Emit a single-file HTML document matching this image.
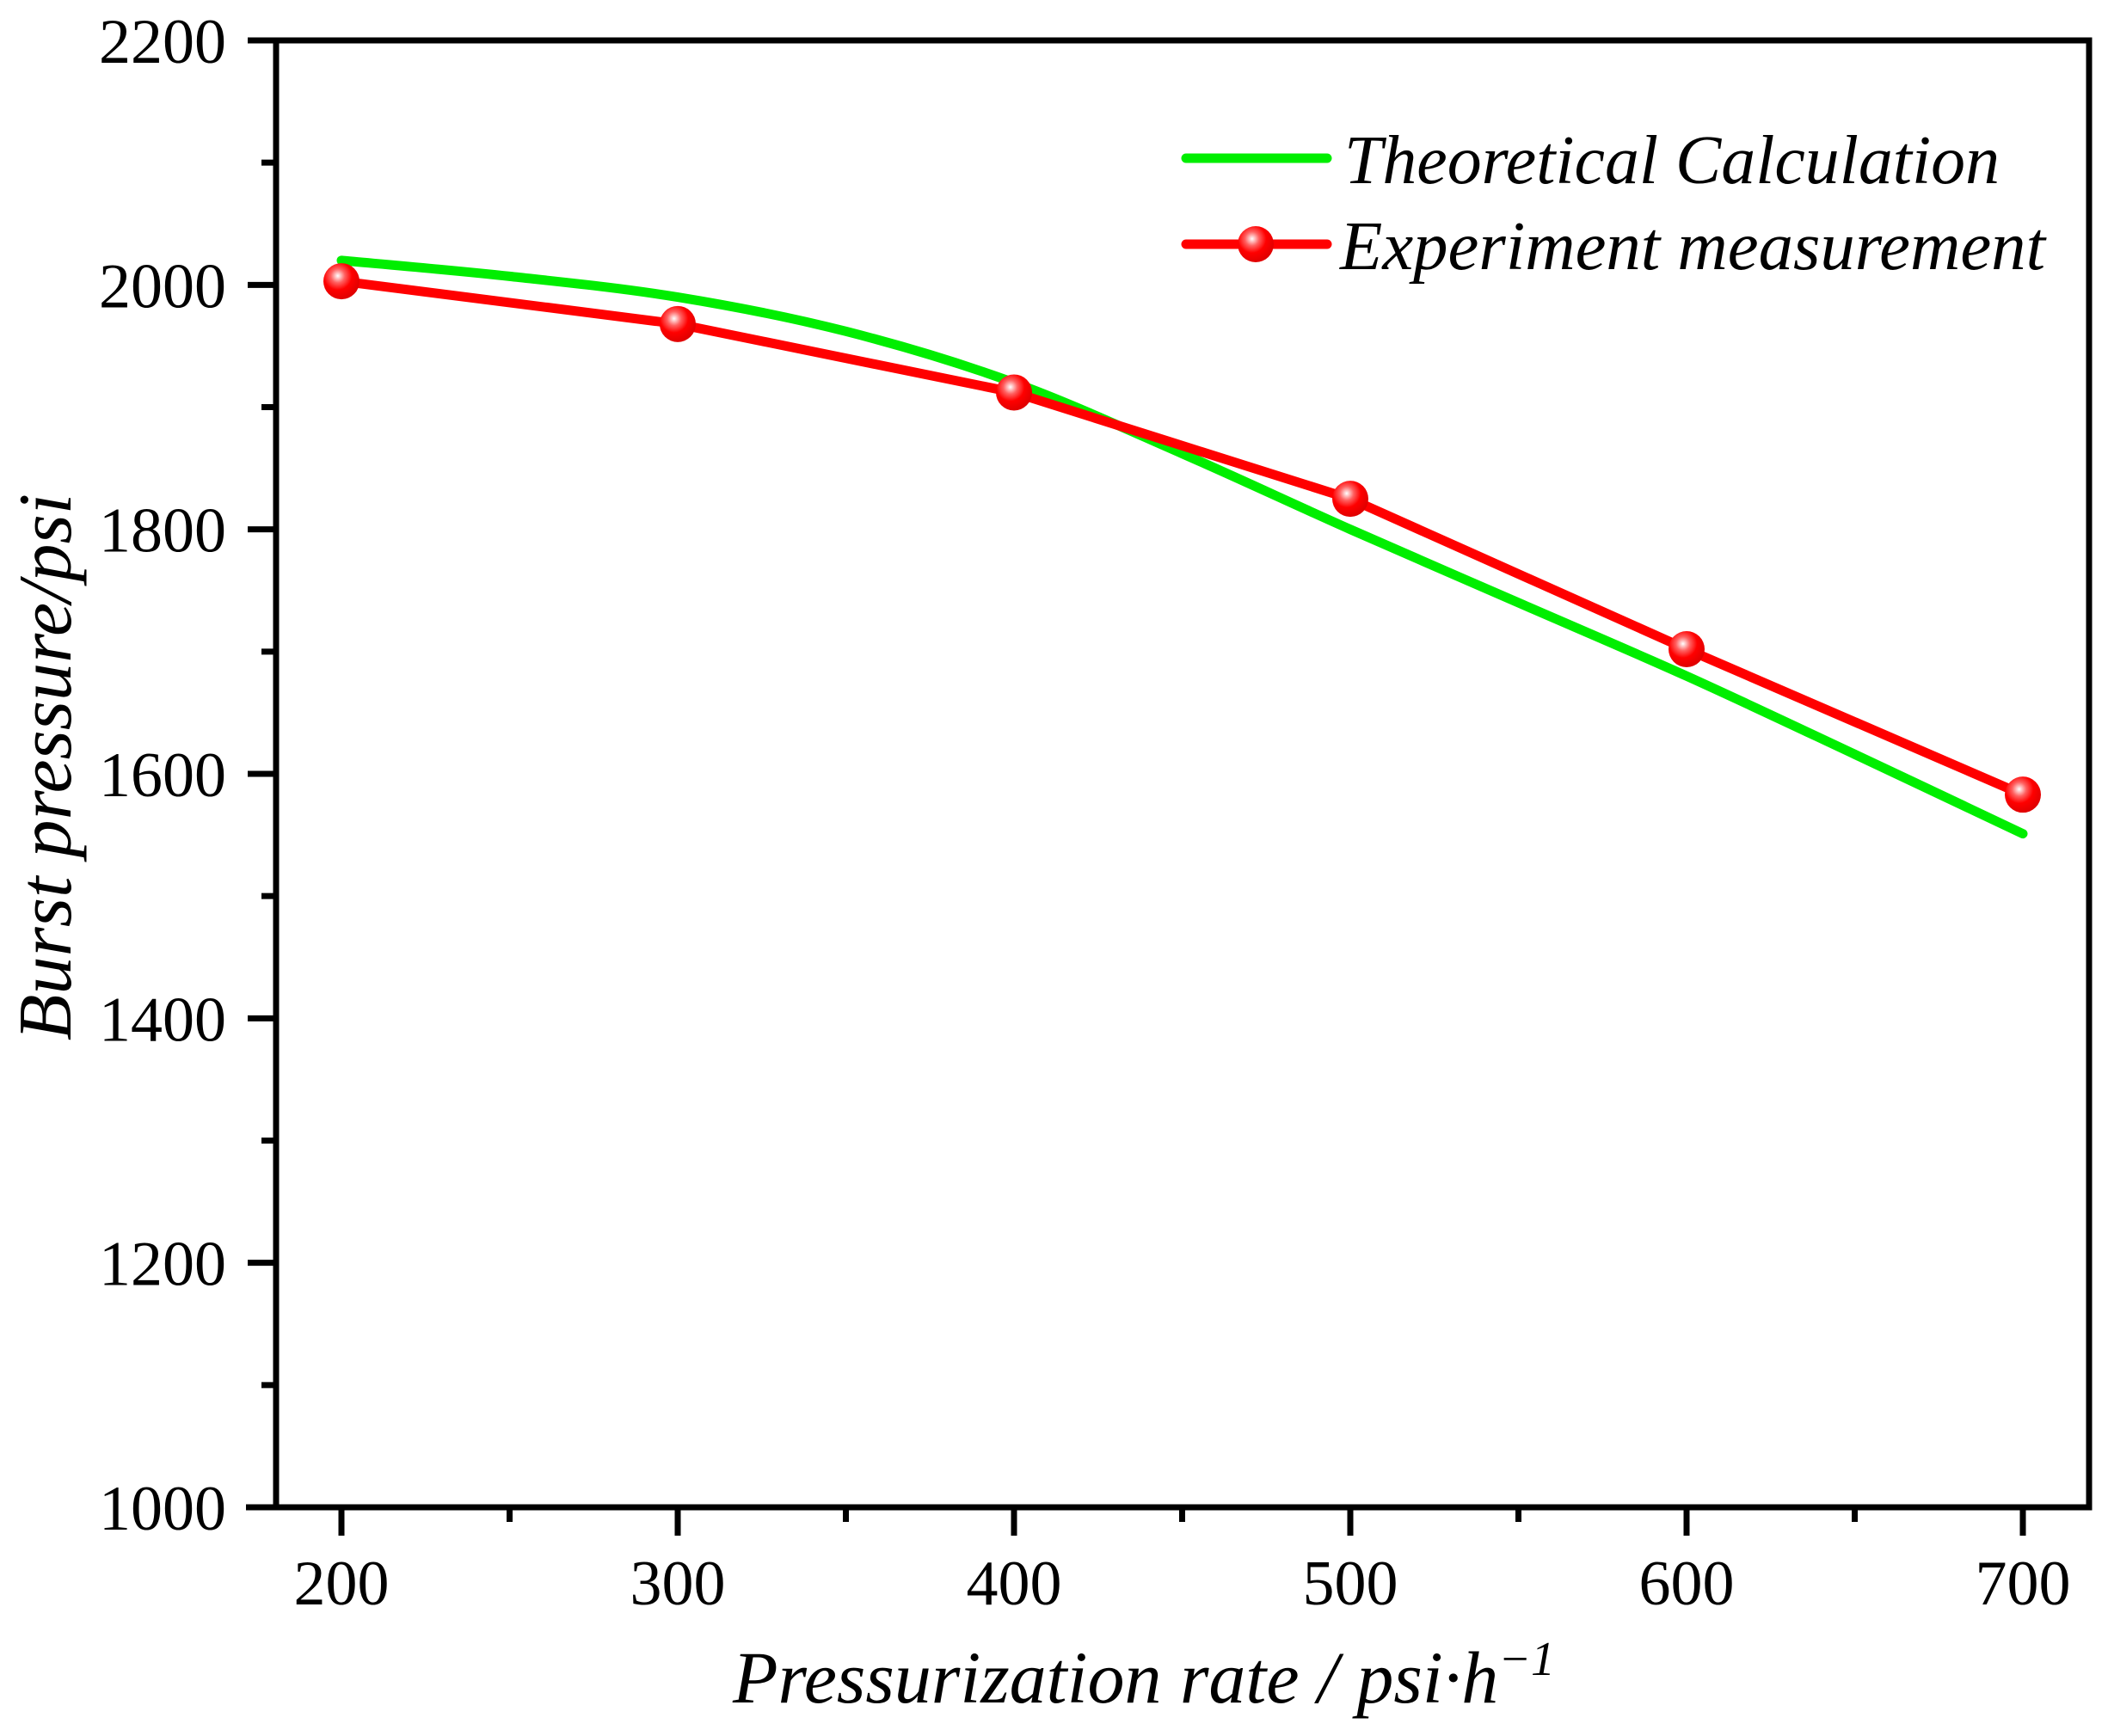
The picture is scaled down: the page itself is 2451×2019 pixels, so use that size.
<!DOCTYPE html>
<html><head><meta charset="utf-8"><style>
html,body{margin:0;padding:0;background:#fff;}
svg{display:block;font-family:"Liberation Serif",serif;}
</style></head><body>
<svg id="chart" width="2451" height="2019" viewBox="0 0 2451 2019" xmlns="http://www.w3.org/2000/svg">
<defs>
<radialGradient id="ball" cx="0.4" cy="0.35" r="0.65">
<stop offset="0" stop-color="#ffffff"/>
<stop offset="0.3" stop-color="#ff6060"/>
<stop offset="0.6" stop-color="#ff0000"/>
<stop offset="1" stop-color="#e00000"/>
</radialGradient>
</defs>
</svg>
<script>
const xCats = [200, 300, 400, 500, 600, 700];
const expValues = [2003, 1968, 1912, 1825, 1702, 1583];
const theoX = [200, 250, 300, 350, 400, 450, 500, 550, 600, 650, 700];
const theoValues = [2020, 2007, 1990, 1962, 1920, 1862, 1800, 1740, 1680, 1616, 1551];
const xTicks = [200, 300, 400, 500, 600, 700];
const xMinor = [250, 350, 450, 550, 650];
const yTicks = [1000, 1200, 1400, 1600, 1800, 2000, 2200];
const yMinor = [1100, 1300, 1500, 1700, 1900, 2100];

const NS = "http://www.w3.org/2000/svg";
const svg = document.getElementById('chart');
const L = 321, R = 2429, T = 47, B = 1753;
const X = v => 397 + (v - 200) * (2352 - 397) / 500;
const Y = v => B - (v - 1000) * (B - T) / 1200;
function mk(tag, attrs, parent) {
  const e = document.createElementNS(NS, tag);
  for (const k in attrs) e.setAttribute(k, attrs[k]);
  (parent || svg).appendChild(e);
  return e;
}
let e = mk('rect', {x: L, y: T, width: R - L, height: B - T, fill: 'none', stroke: '#000', 'stroke-width': 7});


e = mk('line', {x1: 286, y1: B, x2: R, y2: B, stroke: '#000', 'stroke-width': 7});


xTicks.forEach(v => {
  const t = mk('line', {x1: X(v), y1: B, x2: X(v), y2: B + 33, stroke: '#000', 'stroke-width': 7});
  
  
  const tx = mk('text', {x: X(v), y: 1866, 'font-size': 74, 'text-anchor': 'middle'});
  tx.textContent = v;
  
  
});
xMinor.forEach(v => {
  const t = mk('line', {x1: X(v), y1: B, x2: X(v), y2: B + 17, stroke: '#000', 'stroke-width': 7});
  
  
});
yTicks.forEach(v => {
  const t = mk('line', {x1: L - 33, y1: Y(v), x2: L, y2: Y(v), stroke: '#000', 'stroke-width': 7});
  
  
  const tx = mk('text', {x: 263, y: Y(v) + 26, 'font-size': 74, 'text-anchor': 'end'});
  tx.textContent = v;
  
  
});
yMinor.forEach(v => {
  const t = mk('line', {x1: L - 17, y1: Y(v), x2: L, y2: Y(v), stroke: '#000', 'stroke-width': 7});
  
  
});
const tp = theoX.map((x, i) => [X(x), Y(theoValues[i])]);
let d = 'M' + tp[0][0] + ',' + tp[0][1];
for (let i = 0; i < tp.length - 1; i++) {
  const p0 = tp[Math.max(0, i - 1)], p1 = tp[i], p2 = tp[i + 1], p3 = tp[Math.min(tp.length - 1, i + 2)];
  d += ' C' + (p1[0] + (p2[0] - p0[0]) / 6) + ',' + (p1[1] + (p2[1] - p0[1]) / 6) + ' ' +
       (p2[0] - (p3[0] - p1[0]) / 6) + ',' + (p2[1] - (p3[1] - p1[1]) / 6) + ' ' + p2[0] + ',' + p2[1];
}
e = mk('path', {d: d, fill: 'none', stroke: '#00ee00', 'stroke-width': 11, 'stroke-linecap': 'round'});


e = mk('polyline', {points: xCats.map((x, i) => X(x) + ',' + Y(expValues[i])).join(' '), fill: 'none', stroke: '#ff0000', 'stroke-width': 11, 'stroke-linejoin': 'round'});


xCats.forEach((x, i) => {
  const c = mk('circle', {cx: X(x), cy: Y(expValues[i]), r: 21, fill: 'url(#ball)'});
  
  
});
e = mk('line', {x1: 1379, y1: 184, x2: 1543, y2: 184, stroke: '#00ee00', 'stroke-width': 11, 'stroke-linecap': 'round'});


e = mk('text', {x: 1563, y: 213, 'font-size': 80, 'font-style': 'italic', textLength: 762, lengthAdjust: 'spacingAndGlyphs'});
e.textContent = 'Theoretical Calculation';


e = mk('line', {x1: 1379, y1: 284, x2: 1543, y2: 284, stroke: '#ff0000', 'stroke-width': 11, 'stroke-linecap': 'round'});


e = mk('circle', {cx: 1460, cy: 284, r: 21, fill: 'url(#ball)'});


e = mk('text', {x: 1558, y: 313, 'font-size': 80, 'font-style': 'italic', textLength: 820, lengthAdjust: 'spacingAndGlyphs'});
e.textContent = 'Experiment measurement';


e = mk('text', {x: 1330, y: 1980, 'font-size': 86, 'font-style': 'italic', 'text-anchor': 'middle'});
e.innerHTML = 'Pressurization rate / psi·h<tspan dy="-32" font-size="56">−1</tspan>';


e = mk('text', {x: 0, y: 0, 'font-size': 88, 'font-style': 'italic', 'text-anchor': 'middle', transform: 'translate(82,892) rotate(-90)'});
e.textContent = 'Burst pressure/psi';


</script>
</body></html>
